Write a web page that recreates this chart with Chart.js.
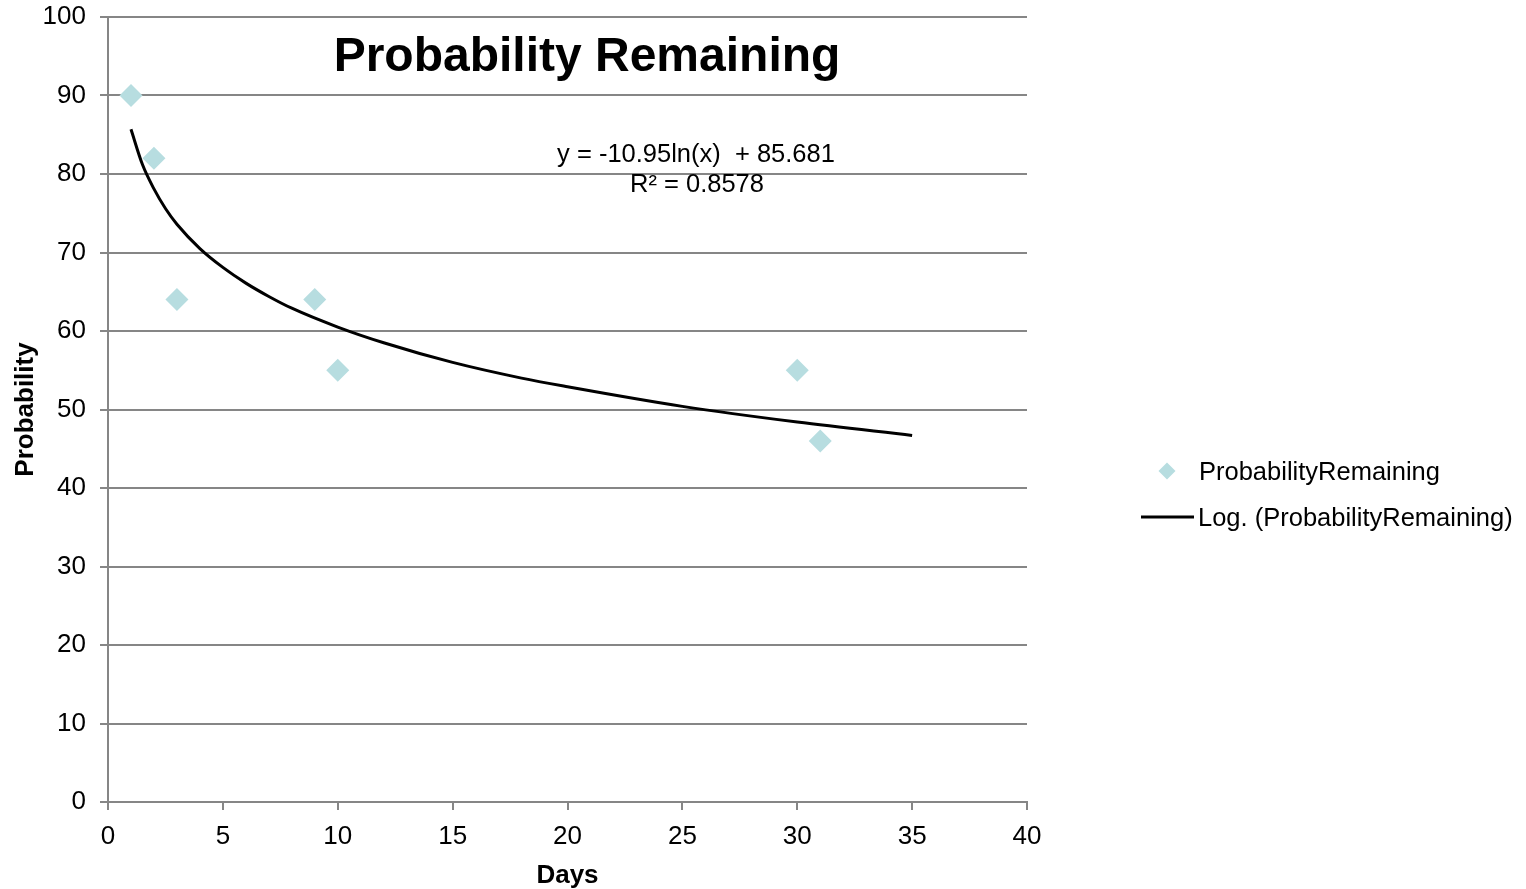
<!DOCTYPE html>
<html>
<head>
<meta charset="utf-8">
<script src="https://cdn.jsdelivr.net/npm/chart.js@4/dist/chart.umd.min.js"></script>
<style>
html,body{margin:0;padding:0;background:#fff;}
#c{display:block;}
</style>
</head>
<body>
<canvas id="c" width="1526" height="889"></canvas>
<script>
const chartTitle = "Probability Remaining";
const seriesName = "ProbabilityRemaining";
const trendName = "Log. (ProbabilityRemaining)";
const xAxisTitle = "Days";
const yAxisTitle = "Probability";
const equationLines = ["y = -10.95ln(x)  + 85.681", "R\u00B2 = 0.8578"];

const days = [1, 2, 3, 9, 10, 30, 31];
const probability = [90, 82, 64, 64, 55, 55, 46];

// trendline
const trendDays = [1, 1.5, 2, 2.5, 3, 4, 5, 6, 7, 8, 10, 12, 15, 18, 20, 25, 30, 35];
const trendValues = [85.7, 81.2, 78.1, 75.6, 73.6, 70.5, 68.1, 66.1, 64.4, 62.9, 60.5, 58.5, 56.0, 54.0, 52.9, 50.4, 48.4, 46.7];

const xMin = 0, xMax = 40, xStep = 5;
const yMin = 0, yMax = 100, yStep = 10;

const FONT = "'Liberation Sans', Arial, sans-serif";
const markerColor = "#B7DDE0";
const gridColor = "#868686";

const overlay = {
  id: 'overlay',
  afterDraw(chart) {
    const ctx = chart.ctx;
    ctx.save();
    ctx.fillStyle = '#000';
    ctx.textAlign = 'center';
    ctx.textBaseline = 'middle';
    ctx.font = "bold 48px " + FONT;
    ctx.fillText(chartTitle, 587, 58);
    ctx.font = "25.5px " + FONT;
    ctx.fillText(equationLines[0], 696, 155);
    ctx.fillText(equationLines[1], 697, 185);
    // legend
    ctx.textAlign = 'left';
    ctx.fillStyle = markerColor;
    ctx.beginPath();
    const mx = 1167, my = 471, r = 8.5;
    ctx.moveTo(mx - r, my); ctx.lineTo(mx, my - r); ctx.lineTo(mx + r, my); ctx.lineTo(mx, my + r);
    ctx.closePath(); ctx.fill();
    ctx.fillStyle = '#000';
    ctx.fillText(seriesName, 1199, 473);
    ctx.strokeStyle = '#000';
    ctx.lineWidth = 3;
    ctx.beginPath(); ctx.moveTo(1141, 517); ctx.lineTo(1194, 517); ctx.stroke();
    ctx.fillText(trendName, 1198, 519);
    ctx.restore();
  }
};

new Chart(document.getElementById('c'), {
  type: 'scatter',
  data: {
    datasets: [
      {
        label: trendName,
        data: trendDays.map((d, i) => ({x: d, y: trendValues[i]})),
        showLine: true,
        borderColor: '#000',
        borderWidth: 3,
        pointRadius: 0,
        cubicInterpolationMode: 'monotone',
        fill: false,
        order: 2
      },
      {
        label: seriesName,
        data: days.map((d, i) => ({x: d, y: probability[i]})),
        pointStyle: 'rectRot',
        pointRadius: 11.5,
        backgroundColor: markerColor,
        borderColor: markerColor,
        borderWidth: 0,
        order: 1
      }
    ]
  },
  options: {
    responsive: false,
    animation: false,
    devicePixelRatio: 1,
    layout: { padding: { left: 0, top: 17, right: 499, bottom: 0 } },
    plugins: { legend: { display: false }, title: { display: false }, tooltip: { enabled: false } },
    scales: {
      x: {
        type: 'linear', min: xMin, max: xMax,
        afterFit(s) { s.height = 87; s.paddingLeft = 0; s.paddingRight = 0; s.paddingTop = 0; s.paddingBottom = 0; },
        ticks: { stepSize: xStep, color: '#000', font: { family: FONT, size: 26 }, padding: 11, maxRotation: 0 },
        grid: { display: true, drawOnChartArea: false, drawTicks: true, tickLength: 8, color: gridColor, lineWidth: 2 },
        border: { display: true, color: gridColor, width: 2 },
        title: { display: true, text: xAxisTitle, color: '#000', font: { family: FONT, size: 26, weight: 'bold', lineHeight: 1.05 }, padding: { top: 0, bottom: 0 } }
      },
      y: {
        type: 'linear', min: yMin, max: yMax,
        afterFit(s) { s.width = 108; s.paddingTop = 0; s.paddingBottom = 0; s.paddingLeft = 0; s.paddingRight = 0; },
        ticks: { stepSize: yStep, color: '#000', font: { family: FONT, size: 26 }, padding: 14 },
        grid: { display: true, drawOnChartArea: true, drawTicks: true, tickLength: 8, color: gridColor, lineWidth: 2 },
        border: { display: true, color: gridColor, width: 2 },
        title: { display: true, text: yAxisTitle, color: '#000', font: { family: FONT, size: 26, weight: 'bold', lineHeight: 1.05 }, padding: { top: 12, bottom: 0 } }
      }
    }
  },
  plugins: [overlay]
});
</script>
</body>
</html>
